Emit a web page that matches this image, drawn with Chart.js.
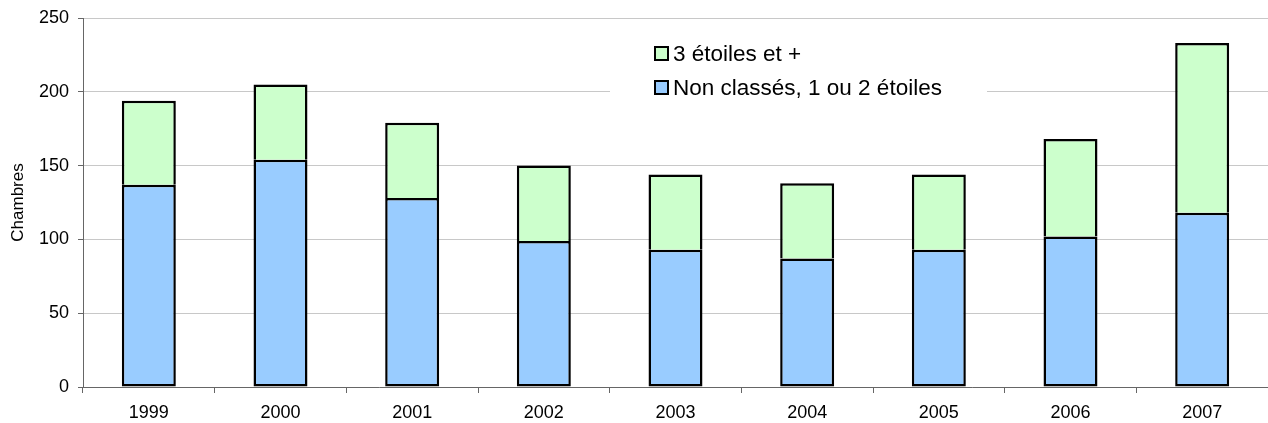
<!DOCTYPE html>
<html>
<head>
<meta charset="utf-8">
<script src="https://cdn.jsdelivr.net/npm/chart.js@4/dist/chart.umd.min.js"></script>
<style>
html, body { margin: 0; padding: 0; background: #fff; }
#wrap { width: 1268px; height: 423px; }
</style>
</head>
<body>
<div id="wrap"><canvas id="chambresChart"></canvas></div>
<script>
// années
const annees = ["1999", "2000", "2001", "2002", "2003", "2004", "2005", "2006", "2007"];

// non classés, 1 ou 2 étoiles
const nonClasses = [137, 154, 128, 99, 93, 87, 93, 102, 118];

// 3 étoiles et +
const troisEtoiles = [57, 51, 51, 51, 51, 51, 51, 66, 115];

const yTicks = [0, 50, 100, 150, 200, 250];

const FONT = "'Liberation Sans', Arial, sans-serif";

// legend drawn inside the plot, with white box over the gridlines
const boxLegend = {
  id: "boxLegend",
  afterDraw(chart) {
    const ctx = chart.ctx;
    ctx.save();
    ctx.fillStyle = "#fff";
    ctx.fillRect(610, 30, 377, 80);
    const items = chart.data.datasets.slice().reverse();
    ctx.font = "22.5px " + FONT;
    ctx.textBaseline = "middle";
    items.forEach(function (ds, i) {
      const y = 54 + i * 34;
      ctx.fillStyle = ds.backgroundColor;
      ctx.fillRect(655, y - 7, 13, 13);
      ctx.lineWidth = 2;
      ctx.strokeStyle = "#000";
      ctx.strokeRect(655, y - 7, 13, 13);
      ctx.fillStyle = "#000";
      ctx.fillText(ds.label, 673, y + 1);
    });
    ctx.restore();
  }
};

new Chart(document.getElementById("chambresChart"), {
  type: "bar",
  data: {
    labels: annees,
    datasets: [
      {
        label: "Non classés, 1 ou 2 étoiles",
        data: nonClasses,
        backgroundColor: "#99CCFF",
        borderColor: "#000",
        borderWidth: 2.5,
        borderSkipped: false
      },
      {
        label: "3 étoiles et +",
        data: troisEtoiles,
        backgroundColor: "#CCFFCC",
        borderColor: "#000",
        borderWidth: 2.5,
        borderSkipped: "bottom"
      }
    ]
  },
  options: {
    responsive: true,
    maintainAspectRatio: false,
    animation: false,
    layout: { padding: { top: 18, right: 0, left: 0, bottom: 0 } },
    datasets: { bar: { categoryPercentage: 1, barPercentage: 0.41 } },
    plugins: {
      legend: { display: false },
      tooltip: { enabled: false }
    },
    scales: {
      x: {
        stacked: true,
        grid: {
          offset: true,
          drawOnChartArea: false,
          drawTicks: true,
          tickLength: 6,
          tickColor: "#666"
        },
        border: { color: "#666", width: 1 },
        ticks: { color: "#000", font: { family: FONT, size: 18 }, padding: 9 },
        afterFit(scale) { scale.height = 36; }
      },
      y: {
        stacked: true,
        min: 0,
        max: 250,
        afterBuildTicks(scale) {
          scale.ticks = yTicks.map(function (v) { return { value: v }; });
        },
        grid: {
          color: "#c8c8c8",
          tickColor: "#666",
          tickLength: 5,
          drawTicks: true
        },
        border: { color: "#666", width: 1 },
        ticks: { color: "#000", font: { family: FONT, size: 18, lineHeight: 1 }, padding: 9 },
        title: {
          display: true,
          text: "Chambres",
          color: "#000",
          font: { family: FONT, size: 17 },
          padding: { top: 8, bottom: 0 }
        },
        afterFit(scale) { scale.width = 83; }
      }
    }
  },
  plugins: [boxLegend]
});
</script>
</body>
</html>
